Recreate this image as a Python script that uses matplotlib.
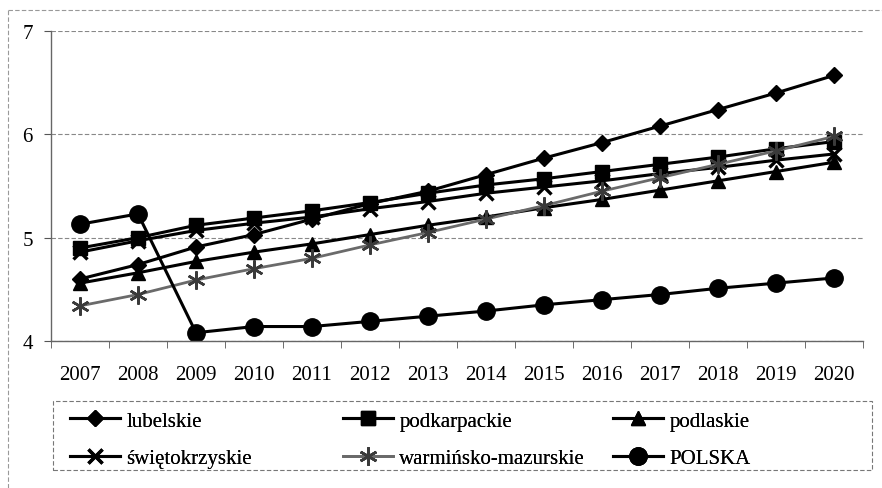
import numpy as np
import matplotlib.pyplot as plt
from matplotlib.lines import Line2D
from matplotlib.patches import Rectangle

plt.rcParams['font.family'] = ['Liberation Serif', 'DejaVu Serif']

years = [str(y) for y in range(2007, 2021)]

lubelskie = [4.60, 4.74, 4.91, 5.03, 5.18, 5.33, 5.45, 5.61, 5.77, 5.92, 6.08, 6.24, 6.40, 6.57]
podkarpackie = [4.90, 5.00, 5.12, 5.19, 5.26, 5.34, 5.43, 5.51, 5.57, 5.64, 5.71, 5.78, 5.86, 5.93]
podlaskie = [4.56, 4.66, 4.77, 4.86, 4.94, 5.03, 5.12, 5.20, 5.29, 5.37, 5.46, 5.55, 5.64, 5.73]
swietokrzyskie = [4.86, 4.97, 5.07, 5.14, 5.20, 5.28, 5.35, 5.43, 5.49, 5.55, 5.62, 5.68, 5.75, 5.81]
warminsko = [4.34, 4.45, 4.59, 4.70, 4.80, 4.93, 5.05, 5.18, 5.31, 5.45, 5.58, 5.71, 5.84, 5.98]
polska = [5.13, 5.23, 4.08, 4.14, 4.14, 4.19, 4.24, 4.29, 4.35, 4.40, 4.45, 4.51, 4.56, 4.61]

W, H = 882, 489
fig = plt.figure(figsize=(W / 100, H / 100), dpi=100)
ax = fig.add_axes([51 / W, 1 - 342 / H, (863 - 51) / W, (342 - 32) / H])

x = np.arange(len(years))
lw = 2.2
ax.plot(x, lubelskie, color='black', lw=lw, marker='D', ms=8.5, label='lubelskie')
ax.plot(x, podkarpackie, color='black', lw=lw, marker='s', ms=10, label='podkarpackie')
ax.plot(x, podlaskie, color='black', lw=lw, marker='^', ms=10.5, label='podlaskie')
ax.plot(x, swietokrzyskie, color='black', lw=lw, marker='x', ms=10, mew=2.4, label='świętokrzyskie')
ax.plot(x, warminsko, color='#6a6a6a', lw=2.0, marker=(6, 2, 0), ms=13, mew=1.8,
        mec='#3a3a3a', label='warmińsko-mazurskie')
ax.plot(x, polska, color='black', lw=lw, marker='o', ms=12.5, label='POLSKA')

ax.set_xlim(-0.5, len(years) - 0.5)
ax.set_ylim(4, 7)
ax.set_yticks([4, 5, 6, 7])
ax.set_xticks(x)
ax.set_xticklabels(years)
ax.set_xticks(np.arange(-0.5, len(years), 1), minor=True)
ax.tick_params(axis='x', which='major', length=0, labelsize=15, pad=17)
ax.tick_params(axis='x', which='minor', length=5, direction='out', color='#555555')
ax.tick_params(axis='y', length=5, labelsize=15, color='#555555', pad=8)
ax.grid(axis='y', color='#888888', ls=(0, (4, 2)), lw=0.8)
for s in ['top', 'right']:
    ax.spines[s].set_visible(False)
for s in ['left', 'bottom']:
    ax.spines[s].set_color('#666666')
    ax.spines[s].set_linewidth(1.0)

# legend: three columns of two rows, laid out like the Excel legend
handles, labels = ax.get_legend_handles_labels()
col_x = [66, 339, 609]
for c in range(3):
    idx = [c, c + 3]
    leg = fig.legend([handles[i] for i in idx], [labels[i] for i in idx],
                     loc='upper left', bbox_to_anchor=(col_x[c] / W, 1 - 408 / H),
                     fontsize=15, handlelength=2.4, handletextpad=0.3,
                     frameon=False, borderaxespad=0, borderpad=0.2,
                     labelspacing=0.85)
    fig.add_artist(leg)

# legend frame
fig.patches.append(Rectangle((53 / W, 1 - 471 / H), (872 - 53) / W, (471 - 402) / H,
                             transform=fig.transFigure, fill=False, ec='#777777',
                             lw=0.8, ls=(0, (4, 2))))

# outer dashed border (top and left only visible)
fig.add_artist(Line2D([8 / W, 8 / W], [0, 1 - 11 / H], transform=fig.transFigure,
                      color='#999999', lw=0.8, ls=(0, (4, 2))))
fig.add_artist(Line2D([8 / W, 1], [1 - 11 / H, 1 - 11 / H], transform=fig.transFigure,
                      color='#999999', lw=0.8, ls=(0, (4, 2))))

fig.savefig('out.png', dpi=100)
